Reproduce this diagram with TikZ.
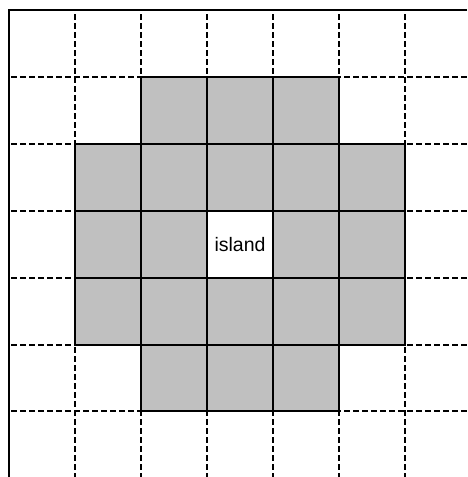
\documentclass[tikz,border=0pt]{standalone}
\usepackage{fontspec}
\setmainfont{Liberation Sans}
\begin{document}
\begin{tikzpicture}[x=1pt,y=-1pt,
  gridline/.style={line width=1.3pt, dash pattern=on 5.5pt off 3.5pt},
  cellbox/.style={draw, line width=1.6pt, fill=cellgray},
  framestyle/.style={line width=1.8pt}]
\definecolor{cellgray}{HTML}{C0C0C0}
\useasboundingbox (0,0) rectangle (467,477);
% dashed grid
\foreach \x in {75,141,207,273,339,405} \draw[gridline] (\x,14) -- (\x,477);
\foreach \y in {77,144,211,278,345,411} \draw[gridline] (11,\y) -- (467,\y);
% gray cells
\foreach \x in {141,207,273} {
  \draw[cellbox] (\x,77) rectangle ++(66,67);
  \draw[cellbox] (\x,345) rectangle ++(66,66);
}
\foreach \x in {75,141,207,273,339} {
  \foreach \y/\h in {144/67,211/67,278/67} {
    \draw[cellbox] (\x,\y) rectangle ++(66,\h);
  }
}
\draw[cellbox, fill=white] (207,211) rectangle (273,278);
\node[inner sep=0pt, font=\fontsize{19.5}{21}\selectfont] (island) at (240,244.5) {island};
% frame
\coordinate (tl) at (9,10);
\coordinate (tr) at (467,10);
\coordinate (bl) at (9,477);
\draw[framestyle] (tr) -- (tl) -- (bl);
\end{tikzpicture}
\end{document}
